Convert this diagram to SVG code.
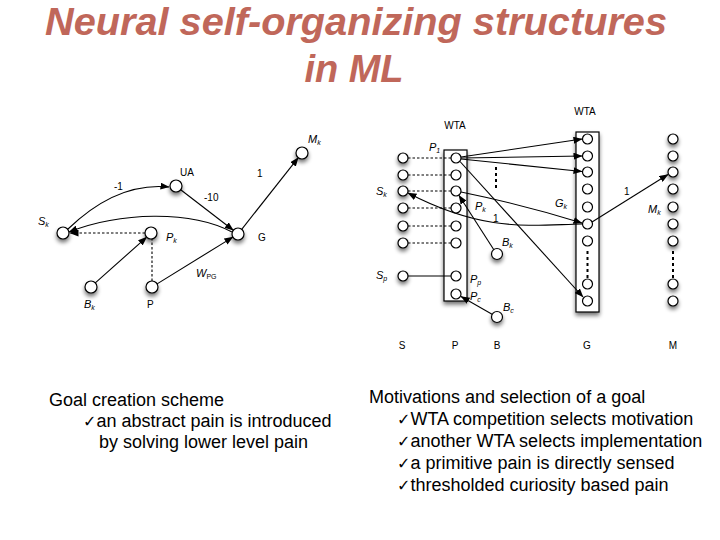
<svg xmlns="http://www.w3.org/2000/svg" width="720" height="540" viewBox="0 0 720 540">
<defs>
<filter id="sh" x="-60%" y="-60%" width="220%" height="240%">
<feGaussianBlur in="SourceAlpha" stdDeviation="2.2"/>
<feOffset dx="0" dy="3" result="b"/>
<feComponentTransfer><feFuncA type="linear" slope="0.55"/></feComponentTransfer>
<feMerge><feMergeNode/><feMergeNode in="SourceGraphic"/></feMerge>
</filter>
<marker id="ah" markerWidth="9" markerHeight="7" refX="8.5" refY="3.5" orient="auto" markerUnits="userSpaceOnUse">
<path d="M0,0 L9,3.5 L0,7 z" fill="#000"/>
</marker>
</defs>
<style>
.n{fill:#fff;stroke:#000;stroke-width:1.2}
.bx{fill:#fff;stroke:#000;stroke-width:1.2}
.e{fill:none;stroke:#000;stroke-width:1.1}
.d{fill:none;stroke:#000;stroke-width:1.1;stroke-dasharray:2.5,2}
.dd{fill:none;stroke:#000;stroke-width:2;stroke-dasharray:3,3}
.l{font-family:"Liberation Sans",Arial,sans-serif;font-size:10px;fill:#000}
.v{font-family:"Liberation Sans",Arial,sans-serif;font-size:11px;font-style:italic;fill:#000}
.sb{font-size:7px}
.title{font-family:"Liberation Sans",Arial,sans-serif;font-size:38px;font-weight:bold;font-style:italic;fill:#c0675a}
.t{font-family:"Liberation Sans",Arial,sans-serif;font-size:18px;fill:#000}
.ck{font-family:"DejaVu Sans",sans-serif;font-size:16px}
</style>
<rect width="720" height="540" fill="#fff"/>

<g id="title">
<text class="title" x="356" y="35" text-anchor="middle" textLength="622" lengthAdjust="spacingAndGlyphs">Neural self-organizing structures</text>
<text class="title" x="354" y="82" text-anchor="middle">in ML</text>
</g>

<!-- LEFT DIAGRAM -->
<g id="connectors-left">
<path class="e" d="M68,229 C95,203 130,183 169,187" marker-end="url(#ah)"/>
<path class="e" d="M180.7,189.7 L233.3,230.3" marker-end="url(#ah)"/>
<path class="e" d="M232,232 C190,210 120,212 69,232" marker-end="url(#ah)"/>
<path class="d" d="M145,233 L70,233" stroke-width="1.5" marker-end="url(#ah)"/>
<path class="e" d="M95.3,282.8 L146.7,237.2" marker-end="url(#ah)"/>
<path class="d" d="M152,281 L152,239" stroke-width="1.8" stroke-dasharray="3,3"/>
<path class="e" d="M157.1,283.9 L232.9,237.1" marker-end="url(#ah)"/>
<path class="e" d="M241.7,229.3 L298.3,157.7" marker-end="url(#ah)"/>
</g>
<g id="nodes-left" filter="url(#sh)">
<g id="L-Sk"><circle class="n" cx="63" cy="233" r="6"/></g>
<g id="L-Pk"><circle class="n" cx="151" cy="233" r="6"/></g>
<g id="L-UA"><circle class="n" cx="176" cy="186" r="6"/></g>
<g id="L-G"><circle class="n" cx="238" cy="234" r="6"/></g>
<g id="L-Mk"><circle class="n" cx="302" cy="153" r="6"/></g>
<g id="L-Bk"><circle class="n" cx="91" cy="287" r="6"/></g>
<g id="L-P"><circle class="n" cx="152" cy="287" r="6"/></g>
</g>
<g id="labels-left">
<text class="v" x="38" y="225">S<tspan class="sb" dy="2">k</tspan></text>
<text class="l" x="180" y="176">UA</text>
<text class="l" x="114" y="190">-1</text>
<text class="l" x="204" y="201">-10</text>
<text class="l" x="257" y="177">1</text>
<text class="v" x="166" y="241" font-size="13">P<tspan class="sb" dy="2">k</tspan></text>
<text class="l" x="258" y="241">G</text>
<text class="v" x="308" y="143">M<tspan class="sb" dy="2">k</tspan></text>
<text class="v" x="84" y="308">B<tspan class="sb" dy="2">k</tspan></text>
<text class="l" x="147" y="308">P</text>
<text class="v" x="196" y="277">W<tspan class="sb" dy="2" font-style="normal">PG</tspan></text>
</g>

<!-- RIGHT DIAGRAM -->
<g id="boxes" filter="url(#sh)">
<rect id="box-P" class="bx" x="444" y="150" width="23" height="151"/>
<rect id="box-G" class="bx" x="576" y="132" width="23" height="180"/>
</g>
<g id="connectors-right">
<path class="d" d="M408,158 H451 M408,175 H451 M408,191 H451 M408,208 H451 M408,226 H451 M408,243 H451"/>
<path class="e" d="M408,276 H451"/>
<path class="e" d="M461,157 L582,139" marker-end="url(#ah)"/>
<path class="e" d="M461,158 L582,156" marker-end="url(#ah)"/>
<path class="e" d="M461,159 L582,171.5" marker-end="url(#ah)"/>
<path class="e" d="M460,161.5 L583,297" marker-end="url(#ah)"/>
<path class="e" d="M461,192 Q520,204 582,223" marker-end="url(#ah)"/>
<path class="e" d="M582,224 C530,225 485,233 408,193" marker-end="url(#ah)"/>
<path class="e" d="M494,250 L459,195.5" marker-end="url(#ah)"/>
<path class="e" d="M492.5,314.5 L461,296.5" marker-end="url(#ah)"/>
<path class="e" d="M592,222 L668,174.5" marker-end="url(#ah)"/>
<path class="dd" d="M496,167 V189"/>
<path class="dd" d="M587.5,251 V278"/>
<path class="dd" d="M673,251 V278"/>
</g>
<g id="nodes-S" filter="url(#sh)">
<circle class="n" cx="403" cy="158" r="5"/>
<circle class="n" cx="403" cy="175" r="5"/>
<circle id="R-Sk" class="n" cx="403" cy="191" r="5"/>
<circle class="n" cx="403" cy="208" r="5"/>
<circle class="n" cx="403" cy="226" r="5"/>
<circle class="n" cx="403" cy="243" r="5"/>
<circle id="R-Sp" class="n" cx="403" cy="276" r="5"/>
</g>
<g id="nodes-P">
<circle id="R-P1" class="n" cx="456" cy="158" r="5"/>
<circle class="n" cx="456" cy="175" r="5"/>
<circle id="R-Pk" class="n" cx="456" cy="191" r="5"/>
<circle class="n" cx="456" cy="208" r="5"/>
<circle class="n" cx="456" cy="226" r="5"/>
<circle class="n" cx="456" cy="243" r="5"/>
<circle id="R-Pp" class="n" cx="456" cy="276" r="5"/>
<circle id="R-Pc" class="n" cx="456" cy="294" r="5"/>
</g>
<g id="nodes-B" filter="url(#sh)">
<circle id="R-Bk" class="n" cx="497" cy="254" r="5.5"/>
<circle id="R-Bc" class="n" cx="497" cy="317" r="5.5"/>
</g>
<g id="nodes-G">
<circle class="n" cx="587.5" cy="139" r="5"/>
<circle class="n" cx="587.5" cy="156" r="5"/>
<circle class="n" cx="587.5" cy="172" r="5"/>
<circle class="n" cx="587.5" cy="189" r="5"/>
<circle class="n" cx="587.5" cy="207" r="5"/>
<circle id="R-Gk" class="n" cx="587.5" cy="224" r="5"/>
<circle class="n" cx="587.5" cy="241" r="5"/>
<circle class="n" cx="587.5" cy="284" r="5"/>
<circle class="n" cx="587.5" cy="301" r="5"/>
</g>
<g id="nodes-M" filter="url(#sh)">
<circle class="n" cx="673" cy="139" r="5"/>
<circle class="n" cx="673" cy="156" r="5"/>
<circle id="R-Mk" class="n" cx="673" cy="172" r="5"/>
<circle class="n" cx="673" cy="189" r="5"/>
<circle class="n" cx="673" cy="207" r="5"/>
<circle class="n" cx="673" cy="224" r="5"/>
<circle class="n" cx="673" cy="241" r="5"/>
<circle class="n" cx="673" cy="284" r="5"/>
<circle class="n" cx="673" cy="301" r="5"/>
</g>
<g id="labels-right">
<text class="l" x="455" y="129" text-anchor="middle" font-size="9">WTA</text>
<text class="l" x="585" y="115" text-anchor="middle" font-size="9">WTA</text>
<text class="v" x="429" y="151">P<tspan class="sb" dy="2">1</tspan></text>
<text class="v" x="376" y="195">S<tspan class="sb" dy="2">k</tspan></text>
<text class="v" x="376" y="279">S<tspan class="sb" dy="2">p</tspan></text>
<text class="v" x="475" y="210" font-size="13">P<tspan class="sb" dy="2">k</tspan></text>
<text class="l" x="493" y="222" font-size="9">1</text>
<text class="v" x="502" y="246">B<tspan class="sb" dy="2">k</tspan></text>
<text class="v" x="470" y="283">P<tspan class="sb" dy="2">p</tspan></text>
<text class="v" x="470" y="300">P<tspan class="sb" dy="2">c</tspan></text>
<text class="v" x="503" y="311">B<tspan class="sb" dy="2">c</tspan></text>
<text class="v" x="555" y="207">G<tspan class="sb" dy="2">k</tspan></text>
<text class="v" x="648" y="213">M<tspan class="sb" dy="2">k</tspan></text>
<text class="l" x="624" y="195" font-size="9">1</text>
<text class="l" x="402" y="349" text-anchor="middle" font-size="9">S</text>
<text class="l" x="455" y="349" text-anchor="middle" font-size="9">P</text>
<text class="l" x="497" y="349" text-anchor="middle" font-size="9">B</text>
<text class="l" x="587" y="349" text-anchor="middle" font-size="9">G</text>
<text class="l" x="673" y="349" text-anchor="middle" font-size="9">M</text>
</g>

<g id="text-left">
<text class="t" x="49" y="406">Goal creation scheme</text>
<text class="t" x="83" y="427"><tspan class="ck">✓</tspan>an abstract pain is introduced</text>
<text class="t" x="99" y="448">by solving lower level pain</text>
</g>
<g id="text-right">
<text class="t" x="369" y="403">Motivations and selection of a goal</text>
<text class="t" x="397" y="425"><tspan class="ck">✓</tspan>WTA competition selects motivation</text>
<text class="t" x="397" y="447"><tspan class="ck">✓</tspan>another WTA selects implementation</text>
<text class="t" x="397" y="469"><tspan class="ck">✓</tspan>a primitive pain is directly sensed</text>
<text class="t" x="397" y="491"><tspan class="ck">✓</tspan>thresholded curiosity based pain</text>
</g>
</svg>
